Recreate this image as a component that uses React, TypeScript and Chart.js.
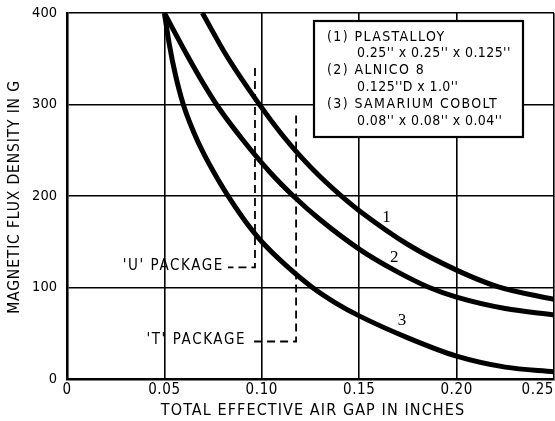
import React, { useEffect, useRef } from "react";
import { Chart, registerables } from "chart.js";

Chart.register(...registerables);

// ---- data ----
const xTickValues = [0, 0.05, 0.1, 0.15, 0.2, 0.25];
const xTickLabels = ["0", "0.05", "0.10", "0.15", "0.20", "0.25"];
const yTickValues = [0, 100, 200, 300, 400];
const yTickLabels = ["0", "100", "200", "300", "400"];

const curve1X = [0.0695, 0.082, 0.0991, 0.11, 0.12, 0.13, 0.143, 0.15, 0.175, 0.2, 0.221, 0.25];
const curve1Y = [400, 353, 299, 268, 243, 221, 196, 184, 147, 119, 101, 87];

const curve2X = [0.05, 0.0614, 0.07, 0.0777, 0.09, 0.1042, 0.1162, 0.13, 0.15, 0.168, 0.186, 0.2, 0.225, 0.25];
const curve2Y = [400, 355, 323, 297, 262, 226, 200, 174, 142, 119, 100, 89.5, 77, 70];

const curve3X = [0.05, 0.0525, 0.0555, 0.0597, 0.065, 0.07, 0.0775, 0.0845, 0.092, 0.1, 0.113, 0.126, 0.138, 0.15, 0.175, 0.2, 0.225, 0.25];
const curve3Y = [400, 366, 334, 300, 270, 247, 218, 194, 171, 150, 123, 100, 83, 69, 45, 25, 13, 8];

const curveNames = ["1", "2", "3"];
const curveLabelX = [0.164, 0.168, 0.172];
const curveLabelY = [176, 133, 64];

const legendLines = [
  "(1) PLASTALLOY",
  "0.25'' x 0.25'' x 0.125''",
  "(2) ALNICO 8",
  "0.125''D x 1.0''",
  "(3) SAMARIUM COBOLT",
  "0.08'' x 0.08'' x 0.04''",
];

const packageLabels = ["'U' PACKAGE", "'T' PACKAGE"];
const packageLineX = [0.0965, 0.1176];
const packageTopY = [340, 288];
const packageBottomY = [122, 41];
const packageLeftX = [0.0826, 0.094];

const xTitle = "TOTAL EFFECTIVE AIR GAP IN INCHES";
const yTitle = "MAGNETIC FLUX DENSITY IN G";

const FONT = '"DejaVu Sans Condensed", "DejaVu Sans", sans-serif';
const SERIF = '"Liberation Serif", "DejaVu Serif", serif';

function toPoints(xs: number[], ys: number[]) {
  return xs.map((x, i) => ({ x, y: ys[i] }));
}

const overlay = {
  id: "overlay",
  afterDraw(chart: any) {
    const ctx: any = chart.ctx;
    const xs = chart.scales.x;
    const ys = chart.scales.y;
    const px = (v: number) => xs.getPixelForValue(v);
    const py = (v: number) => ys.getPixelForValue(v);
    ctx.save();
    ctx.fillStyle = "#000";
    ctx.strokeStyle = "#000";
    ctx.textBaseline = "middle";

    // x tick labels
    ctx.font = `15px ${FONT}`;
    ctx.letterSpacing = "0.6px";
    xTickValues.forEach((v, i) => {
      ctx.textAlign = i === xTickValues.length - 1 ? "right" : "center";
      ctx.fillText(xTickLabels[i], px(v), py(0) + 11);
    });
    // y tick labels
    ctx.font = `14.5px ${FONT}`;
    ctx.letterSpacing = "0px";
    ctx.textAlign = "right";
    yTickValues.forEach((v, i) => {
      ctx.fillText(yTickLabels[i], px(0) - 10, py(v));
    });

    // axis titles
    ctx.font = `16px ${FONT}`;
    ctx.letterSpacing = "1.1px";
    ctx.textAlign = "center";
    ctx.fillText(xTitle, 313, 411);
    ctx.save();
    ctx.translate(15, 197);
    ctx.rotate(-Math.PI / 2);
    ctx.font = `15.5px ${FONT}`;
    ctx.letterSpacing = "0.85px";
    ctx.fillText(yTitle, 0, 0);
    ctx.restore();

    // package dashed lines
    ctx.lineWidth = 1.8;
    ctx.setLineDash([8, 5]);
    for (let i = 0; i < packageLabels.length; i++) {
      ctx.beginPath();
      ctx.moveTo(px(packageLineX[i]), py(packageTopY[i]));
      ctx.lineTo(px(packageLineX[i]), py(packageBottomY[i]));
      ctx.lineTo(px(packageLeftX[i]), py(packageBottomY[i]));
      ctx.stroke();
    }
    ctx.setLineDash([]);
    ctx.font = `15px ${FONT}`;
    ctx.letterSpacing = "1.6px";
    ctx.textAlign = "right";
    for (let i = 0; i < packageLabels.length; i++) {
      ctx.fillText(packageLabels[i], px(packageLeftX[i]) - 4, py(packageBottomY[i]) - 1);
    }

    // legend box
    const bx = 314, by = 21, bw = 209, bh = 116;
    ctx.fillStyle = "#fff";
    ctx.fillRect(bx, by, bw, bh);
    ctx.lineWidth = 2.2;
    ctx.strokeRect(bx, by, bw, bh);
    ctx.fillStyle = "#000";
    ctx.font = `14px ${FONT}`;
    ctx.textAlign = "left";
    legendLines.forEach((t, i) => {
      const caps = i % 2 === 0;
      ctx.letterSpacing = caps ? "1.4px" : "0.4px";
      ctx.fillText(t, caps ? 327 : 357, 37 + i * 16.8);
    });

    // curve labels
    ctx.letterSpacing = "0px";
    ctx.font = `17px ${SERIF}`;
    ctx.textAlign = "center";
    curveNames.forEach((n, i) => {
      ctx.fillText(n, px(curveLabelX[i]), py(curveLabelY[i]));
    });

    ctx.restore();
  },
};

export default function App() {
  const ref = useRef<HTMLCanvasElement | null>(null);
  useEffect(() => {
    if (!ref.current) return;
    const lineStyle = {
      borderColor: "#000",
      borderWidth: 5,
      pointRadius: 0,
      fill: false,
      cubicInterpolationMode: "monotone" as const,
    };
    const chart = new Chart(ref.current, {
      type: "line",
      data: {
        datasets: [
          { label: "1", data: toPoints(curve1X, curve1Y), ...lineStyle },
          { label: "2", data: toPoints(curve2X, curve2Y), ...lineStyle },
          { label: "3", data: toPoints(curve3X, curve3Y), ...lineStyle },
        ],
      },
      options: {
        animation: false,
        responsive: false,
        devicePixelRatio: 1,
        layout: { padding: { left: 67, right: 1, top: 13, bottom: 42 } },
        plugins: { legend: { display: false }, tooltip: { enabled: false } },
        scales: {
          x: {
            type: "linear",
            min: 0,
            max: 0.25,
            ticks: { display: false, stepSize: 0.05 },
            grid: { color: "#000", lineWidth: 1.6, drawTicks: false },
            border: { display: true, color: "#000", width: 2.6 },
          },
          y: {
            type: "linear",
            min: 0,
            max: 400,
            ticks: { display: false, stepSize: 100 },
            grid: { color: "#000", lineWidth: 1.6, drawTicks: false },
            border: { display: true, color: "#000", width: 2.6 },
          },
        },
      },
      plugins: [overlay],
    });
    return () => chart.destroy();
  }, []);
  return (
    <div style={{ position: "absolute", left: 0, top: 0, width: 555, height: 421, background: "#fff" }}>
      <canvas ref={ref} width={555} height={421} style={{ display: "block" }} />
    </div>
  );
}
